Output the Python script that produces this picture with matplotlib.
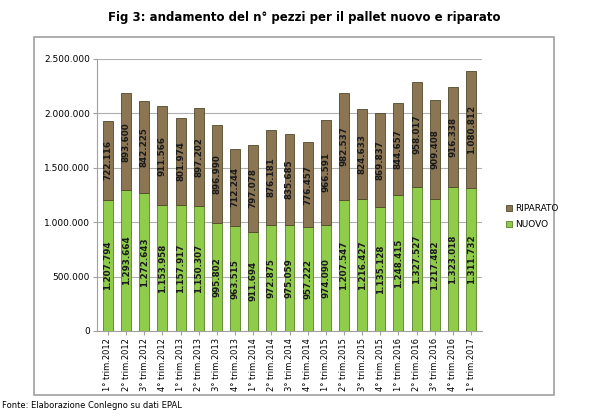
import matplotlib
matplotlib.use("Agg")
import matplotlib.pyplot as plt
from matplotlib.patches import Rectangle
import numpy as np

categories = ["1° trim.2012", "2° trim.2012", "3° trim.2012", "4° trim.2012",
              "1° trim.2013", "2° trim.2013", "3° trim.2013", "4° trim.2013",
              "1° trim.2014", "2° trim.2014", "3° trim.2014", "4° trim.2014",
              "1° trim.2015", "2° trim.2015", "3° trim.2015", "4° trim.2015",
              "1° trim.2016", "2° trim.2016", "3° trim.2016", "4° trim.2016",
              "1° trim.2017"]
nuovo = [1207794, 1293664, 1272643, 1153958, 1157917, 1150307, 995802, 963515,
         911694, 972875, 975059, 957222, 974090, 1207547, 1216427, 1135128,
         1248415, 1327527, 1217482, 1323018, 1311732]
riparato = [722116, 893600, 842225, 911566, 801974, 897202, 896990, 712244,
            797078, 876181, 835685, 776457, 966591, 982537, 824633, 869837,
            844657, 958017, 909408, 916338, 1080812]
yticks = [0, 500000, 1000000, 1500000, 2000000, 2500000]

def fmt(v):
    return f"{v:,}".replace(",", ".")

fig = plt.figure(figsize=(6.08, 4.16), dpi=100)
fig.patch.set_facecolor("white")

# outer frame
fig.patches.append(Rectangle((34/608, 1-395/416), (554-34)/608, (395-37)/416,
                             transform=fig.transFigure, fill=False,
                             edgecolor="#a0a0a0", linewidth=1.2))

ax = fig.add_axes([97/608, 1-331/416, (482-97)/608, (331-59)/416])
x = np.arange(len(categories))
w = 0.55
green = "#8fcc4a"
brown = "#8c7553"
b1 = ax.bar(x, nuovo, w, color=green, edgecolor="#5a7f2a", linewidth=0.6, label="NUOVO", zorder=3)
b2 = ax.bar(x, riparato, w, bottom=nuovo, color=brown, edgecolor="#4f4a2a", linewidth=0.6, label="RIPARATO", zorder=3)

for i in range(len(x)):
    ax.text(x[i], nuovo[i]/2, fmt(nuovo[i]), rotation=90, ha="center", va="center",
            fontsize=6.3, fontweight="bold", color="#1a1a1a", zorder=4)
    ax.text(x[i], nuovo[i] + riparato[i]/2, fmt(riparato[i]), rotation=90, ha="center", va="center",
            fontsize=6.3, fontweight="bold", color="#1a1a1a", zorder=4)

ax.set_ylim(0, 2500000)
ax.set_xlim(-0.6, len(x) - 0.4)
ax.set_yticks(yticks)
ax.set_yticklabels([fmt(v) for v in yticks], fontsize=6.5)
ax.set_xticks(x)
ax.set_xticklabels(categories, rotation=90, fontsize=6.0)
ax.yaxis.grid(True, color="#b0b0b0", linewidth=0.8, zorder=0)
for s in ["top", "right"]:
    ax.spines[s].set_visible(False)
ax.spines["left"].set_color("#a0a0a0")
ax.spines["bottom"].set_color("#a0a0a0")
ax.tick_params(axis="both", length=3, color="#a0a0a0", pad=2)

handles = [b2, b1]
leg = fig.legend(handles, ["RIPARATO", "NUOVO"], loc="upper left",
                 bbox_to_anchor=(498/608, 1-196/416), frameon=False, fontsize=6.5,
                 handlelength=0.7, handleheight=0.7, handletextpad=0.3, labelspacing=0.8)

fig.text(0.5, 1-17/416, "Fig 3: andamento del n° pezzi per il pallet nuovo e riparato",
         ha="center", va="center", fontsize=8.5, fontweight="bold")
fig.text(2/608, 1-405/416, "Fonte: Elaborazione Conlegno su dati EPAL",
         ha="left", va="center", fontsize=6)

fig.savefig("out.png", dpi=100)
